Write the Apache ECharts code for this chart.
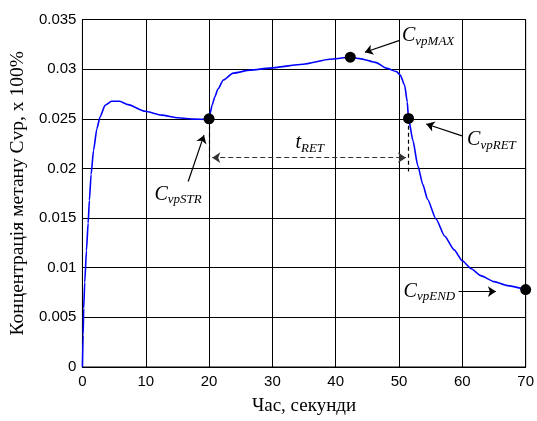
<!DOCTYPE html>
<html><head><meta charset="utf-8">
<script src="https://cdn.jsdelivr.net/npm/echarts@6/dist/echarts.min.js"></script>
<style>html,body{margin:0;padding:0;background:#fff}#c{width:537px;height:421px}</style>
</head><body><div id="c"></div>
<script>
// Curve samples (time, s ; concentration)
var time = [0, 0.11, 0.2, 0.36, 0.63, 0.9, 1.1, 1.37, 1.75, 2.28, 2.79, 3.57, 4.6, 5.9, 7.2, 9.9, 12.5, 15.1, 17.7, 19.6, 20.0, 20.1, 20.5, 20.9, 21.4, 22.25, 23.8, 26.5, 29.6, 34.85, 39.05, 42.3, 43.8, 46.4, 48.0, 49.6, 50.2, 50.9, 51.3, 51.5, 52.2, 52.96, 53.75, 54.5, 55.85, 57.2, 58.7, 60.0, 61.4, 62.9, 65.0, 67.1, 70];
var conc = [0, 0.0032, 0.0059, 0.0085, 0.0117, 0.0145, 0.0168, 0.0194, 0.0218, 0.0240, 0.0252, 0.02636, 0.02676, 0.02676, 0.02643, 0.02576, 0.02537, 0.0251, 0.02497, 0.02494, 0.0250, 0.0254, 0.0264, 0.0272, 0.0280, 0.0289, 0.0296, 0.0299, 0.0301, 0.0305, 0.0310, 0.0312, 0.03106, 0.03066, 0.0301, 0.02975, 0.0294, 0.02834, 0.0267, 0.02504, 0.0228, 0.0203, 0.0184, 0.0169, 0.0149, 0.0132, 0.0118, 0.0107, 0.0099, 0.0092, 0.0086, 0.0082, 0.0078];
// Marked points
var keyPoints = [[20, 0.025], [42.3, 0.0312], [51.5, 0.02504], [70, 0.0078]];
// Annotation labels: [t, c, main, subscript]
var labelPoints = [
  [15.1, 0.01729, 'C', 'vpSTR'],
  [54.6, 0.03325, 'C', 'vpMAX'],
  [64.6, 0.02276, 'C', 'vpRET'],
  [54.8, 0.0075, 'C', 'vpEND'],
  [35.9, 0.02245, 't', 'RET']
];
// Pointer arrows [[from],[to]]
var arrows = [
  [[16.7, 0.01868], [19.2, 0.02335]],
  [[50.1, 0.0329], [44.6, 0.0317]],
  [[59.95, 0.02328], [54.3, 0.02447]],
  [[59.4, 0.0076], [65.3, 0.0076]]
];
var retArrow = [[20.5, 0.02108], [51.1, 0.02108]];
var dashedDrops = [
  [[20, 0.025], [20, 0.0198]],
  [[51.5, 0.025], [51.5, 0.0197]]
];
var xTicks = [0, 10, 20, 30, 40, 50, 60, 70];
var yTicks = [0, 0.005, 0.01, 0.015, 0.02, 0.025, 0.03, 0.035];

var chart = echarts.init(document.getElementById('c'), null, {renderer: 'canvas'});
var serif = 'Liberation Serif';
var sans = 'Liberation Sans';
chart.setOption({
  animation: false,
  backgroundColor: '#fff',
  grid: {left: 82, right: 10, top: 19.5, bottom: 48, show: true, borderColor: '#000', borderWidth: 1, containLabel: false},
  xAxis: {
    type: 'value', min: xTicks[0], max: xTicks[xTicks.length - 1], interval: 10,
    name: 'Час, секунди', nameLocation: 'middle', nameGap: 30,
    nameTextStyle: {fontFamily: serif, fontSize: 19, color: '#000'},
    axisLine: {show: true, lineStyle: {color: '#000', width: 1}},
    axisTick: {show: false},
    axisLabel: {fontFamily: sans, fontSize: 15, color: '#000', margin: 7},
    splitLine: {show: true, lineStyle: {color: '#000', width: 1}}
  },
  yAxis: {
    type: 'value', min: yTicks[0], max: yTicks[yTicks.length - 1], interval: 0.005,
    name: 'Концентрація метану Cvp, х 100%', nameLocation: 'middle', nameGap: 51,
    nameTextStyle: {fontFamily: serif, fontSize: 19.5, color: '#000'},
    axisLine: {show: true, lineStyle: {color: '#000', width: 1}},
    axisTick: {show: false},
    axisLabel: {fontFamily: sans, fontSize: 15, color: '#000', margin: 6,
      formatter: function (v) { return v === 0 ? '0' : String(+v.toFixed(3)); }},
    splitLine: {show: true, lineStyle: {color: '#000', width: 1}}
  },
  series: [
    {
      type: 'line', data: time.map(function (t, i) { return [t, conc[i]]; }),
      showSymbol: false, smooth: 0.2, smoothMonotone: 'x',
      lineStyle: {color: '#0000ff', width: 1.6}, z: 3
    },
    {
      type: 'lines', coordinateSystem: 'cartesian2d',
      symbol: ['none', 'none'],
      data: dashedDrops.map(function (d) { return {coords: d}; }),
      lineStyle: {color: '#000', width: 1.2, type: [4, 3], opacity: 1}, z: 4
    },
    {
      type: 'lines', coordinateSystem: 'cartesian2d',
      symbol: ['arrow', 'arrow'], symbolSize: [8, 8],
      data: [{coords: retArrow}],
      lineStyle: {color: '#333', width: 1.2, type: [5, 3], opacity: 1}, z: 4
    },
    {
      type: 'lines', coordinateSystem: 'cartesian2d',
      symbol: ['none', 'arrow'], symbolSize: 8,
      data: arrows.map(function (d) { return {coords: d}; }),
      lineStyle: {color: '#000', width: 1.2, opacity: 1}, z: 4
    },
    {
      type: 'scatter', data: keyPoints, symbol: 'circle', symbolSize: 11,
      itemStyle: {color: '#000', opacity: 1}, clip: false, z: 5
    },
    {
      type: 'scatter', symbolSize: 0, itemStyle: {color: '#000', opacity: 1},
      data: labelPoints.map(function (p) { return {value: [p[0], p[1]], main: p[2], sub: p[3]}; }),
      label: {
        show: true, position: 'inside',
        formatter: function (p) { return '{m|' + p.data.main + '}{s|' + p.data.sub + '}'; },
        rich: {
          m: {fontFamily: serif, fontStyle: 'italic', fontSize: 20, color: '#000', verticalAlign: 'bottom', padding: [0, 0, 2, 0]},
          s: {fontFamily: serif, fontStyle: 'italic', fontSize: 13, color: '#000', verticalAlign: 'bottom'}
        }
      },
      z: 6
    }
  ]
});
</script>
</body></html>
